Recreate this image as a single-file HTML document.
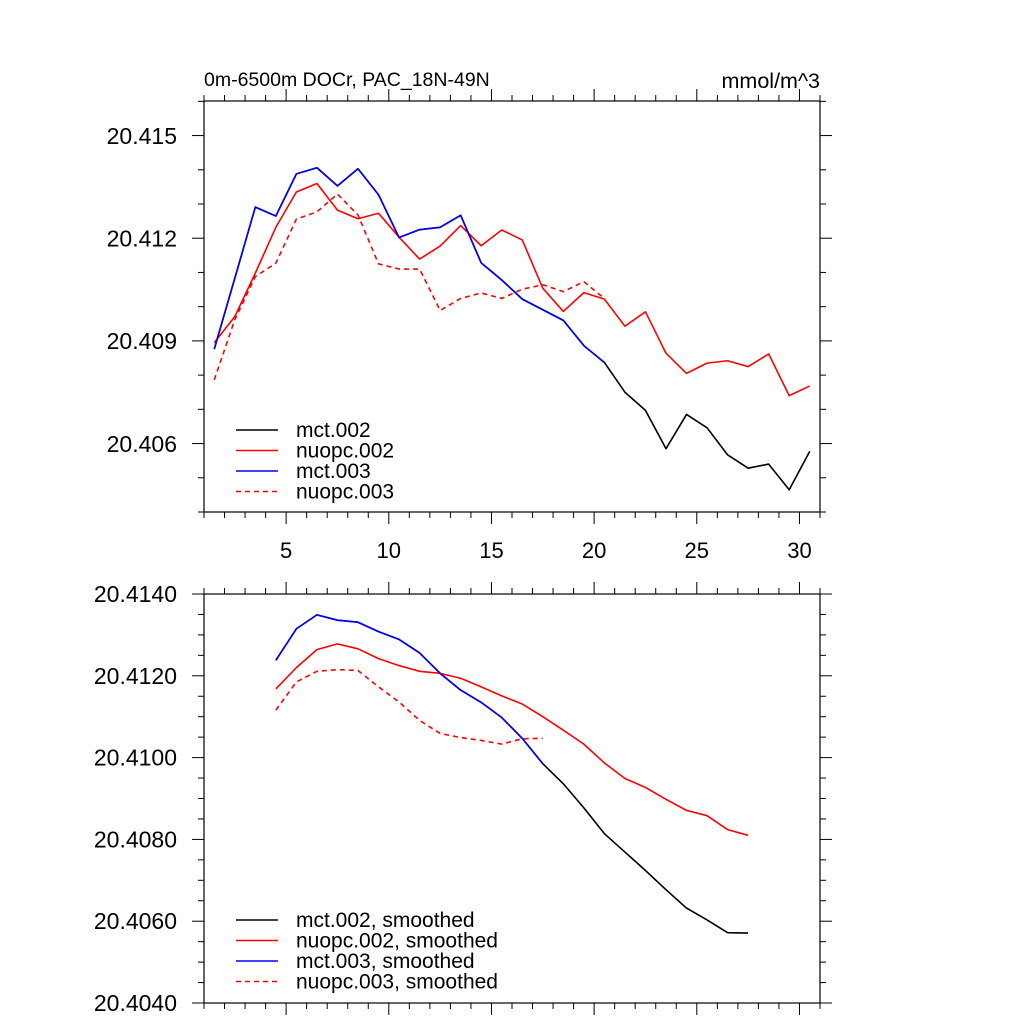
<!DOCTYPE html>
<html><head><meta charset="utf-8"><style>
html,body{margin:0;padding:0;background:#fff;}
svg{display:block;font-family:"Liberation Sans",sans-serif;}
</style></head><body>
<svg id="c" width="1024" height="1024" viewBox="0 0 1024 1024"></svg>
<script>
const xTicks=[5,10,15,20,25,30];
const topYTicks=[20.406,20.409,20.412,20.415];
const topYLabels=["20.406","20.409","20.412","20.415"];
const botYTicks=[20.404,20.406,20.408,20.410,20.412,20.414];
const botYLabels=["20.4040","20.4060","20.4080","20.4100","20.4120","20.4140"];
const mct002=[20.40877,20.41084,20.41292,20.41266,20.41389,20.41407,20.41354,20.41404,20.41328,20.41203,20.41226,20.41233,20.41268,20.41129,20.41079,20.41023,20.40992,20.40961,20.40887,20.40838,20.40751,20.40698,20.40586,20.40686,20.40647,20.40568,20.40529,20.40541,20.40466,20.40578];
const nuopc002=[20.40896,20.40972,20.41099,20.41233,20.41336,20.41361,20.41283,20.41258,20.41274,20.41204,20.41140,20.41178,20.41238,20.41179,20.41225,20.41196,20.41055,20.40987,20.41042,20.41023,20.40944,20.40986,20.40865,20.40806,20.40836,20.40843,20.40826,20.40863,20.40741,20.40769];
const mct003=[20.40877,20.41084,20.41292,20.41266,20.41389,20.41407,20.41354,20.41404,20.41328,20.41203,20.41226,20.41233,20.41268,20.41129,20.41079,20.41023,20.40992,20.40961,20.40887,20.40838];
const nuopc003=[20.40787,20.40963,20.41089,20.41128,20.41257,20.41278,20.41330,20.41269,20.41126,20.41111,20.41111,20.40990,20.41025,20.41041,20.41025,20.41052,20.41065,20.41045,20.41074,20.41025];
const mct002s=[20.41238,20.41315,20.41349,20.41336,20.41331,20.41308,20.41289,20.41256,20.41206,20.41165,20.41135,20.41098,20.41047,20.40985,20.40936,20.40877,20.40814,20.40769,20.40724,20.40677,20.40632,20.40603,20.40572,20.40571];
const nuopc002s=[20.41168,20.41220,20.41264,20.41278,20.41266,20.41242,20.41225,20.41211,20.41206,20.41194,20.41173,20.41151,20.41131,20.41100,20.41067,20.41033,20.40987,20.40949,20.40927,20.40898,20.40871,20.40858,20.40824,20.40810];
const mct003s=[20.41238,20.41315,20.41349,20.41336,20.41331,20.41308,20.41289,20.41256,20.41206,20.41165,20.41135,20.41098,20.41047,20.40985];
const nuopc003s=[20.41116,20.41185,20.41211,20.41215,20.41213,20.41173,20.41136,20.41091,20.41059,20.41049,20.41042,20.41033,20.41046,20.41047];

const svg=document.getElementById('c');
const NS='http://www.w3.org/2000/svg';
function mk(tag,attrs,parent){const e=document.createElementNS(NS,tag);for(const k in attrs)e.setAttribute(k,attrs[k]);(parent||svg).appendChild(e);return e;}
const L=204,R=820;
const xs=v=>L+(v-1)/30*(R-L);

function panel(name,top,bot,ymin,ymax,majors,labels,minorStep,series,showX,legend,legY){
  const g=mk('g',{});
  
  
  const ys=v=>bot-(v-ymin)/(ymax-ymin)*(bot-top);
  const tk=mk('g',{stroke:'#000','stroke-width':1},g);
  for(let x=1;x<=31;x++){
    const maj=x%5===0, len=maj?12:6, px=xs(x);
    mk('line',{x1:px,y1:bot,x2:px,y2:bot+len},tk);
    mk('line',{x1:px,y1:top,x2:px,y2:top-len},tk);
  }
  const n=Math.round((ymax-ymin)/minorStep);
  for(let i=0;i<=n;i++){
    const v=ymin+i*minorStep, py=ys(v);
    const maj=majors.some(m=>Math.abs(m-v)<minorStep/10), len=maj?12:6;
    mk('line',{x1:L,y1:py,x2:L-len,y2:py},tk);
    mk('line',{x1:R,y1:py,x2:R+len,y2:py},tk);
  }
  majors.forEach((m,i)=>{
    const t=mk('text',{x:177,y:ys(m)+8,'text-anchor':'end','font-size':23},g);
    t.textContent=labels[i];
    
    
  });
  if(showX){xTicks.forEach(x=>{
    const t=mk('text',{x:xs(x),y:bot+46,'text-anchor':'middle','font-size':22},g);
    t.textContent=String(x);
    
    
  });}
  series.forEach(s=>{
    const pts=s.data.map((v,i)=>xs(s.x0+i)+','+ys(v)).join(' ');
    const p=mk('polyline',{points:pts,fill:'none',stroke:s.c,'stroke-width':1.6,'stroke-dasharray':s.d?'5,4':'none','stroke-linejoin':'round'},g);
    
    
  });
  mk('rect',{x:L,y:top,width:R-L,height:bot-top,fill:'none',stroke:'#000','stroke-width':1.2},g);
  const lg=mk('g',{},g);
  
  
  legend.forEach((s,i)=>{
    const y=legY+i*20.5;
    mk('line',{x1:236,y1:y,x2:278,y2:y,stroke:s.c,'stroke-width':1.6,'stroke-dasharray':s.d?'5,4':'none'},lg);
    const t=mk('text',{x:296,y:y+7,'font-size':21},lg);
    t.textContent=s.label;
    
    
  });
}
panel('top-panel',101,512,20.40401,20.41602,topYTicks,topYLabels,0.001,[
  {n:'mct002-line',data:mct002,x0:1.5,c:'#000'},
  {n:'nuopc002-line',data:nuopc002,x0:1.5,c:'#f00'},
  {n:'mct003-line',data:mct003,x0:1.5,c:'#00f'},
  {n:'nuopc003-line',data:nuopc003,x0:1.5,c:'#f00',d:1}],true,
  [{c:'#000',label:'mct.002'},{c:'#f00',label:'nuopc.002'},{c:'#00f',label:'mct.003'},{c:'#f00',d:1,label:'nuopc.003'}],430);
panel('bottom-panel',594,1003,20.404,20.414,botYTicks,botYLabels,0.0005,[
  {n:'mct002-smoothed-line',data:mct002s,x0:4.5,c:'#000'},
  {n:'nuopc002-smoothed-line',data:nuopc002s,x0:4.5,c:'#f00'},
  {n:'mct003-smoothed-line',data:mct003s,x0:4.5,c:'#00f'},
  {n:'nuopc003-smoothed-line',data:nuopc003s,x0:4.5,c:'#f00',d:1}],false,
  [{c:'#000',label:'mct.002, smoothed'},{c:'#f00',label:'nuopc.002, smoothed'},{c:'#00f',label:'mct.003, smoothed'},{c:'#f00',d:1,label:'nuopc.003, smoothed'}],920);
const t1=mk('text',{x:204,y:86,'font-size':19.5});
t1.textContent='0m-6500m DOCr, PAC_18N-49N';


const t2=mk('text',{x:820,y:88,'font-size':21.5,'text-anchor':'end'});
t2.textContent='mmol/m^3';


</script>
</body></html>
